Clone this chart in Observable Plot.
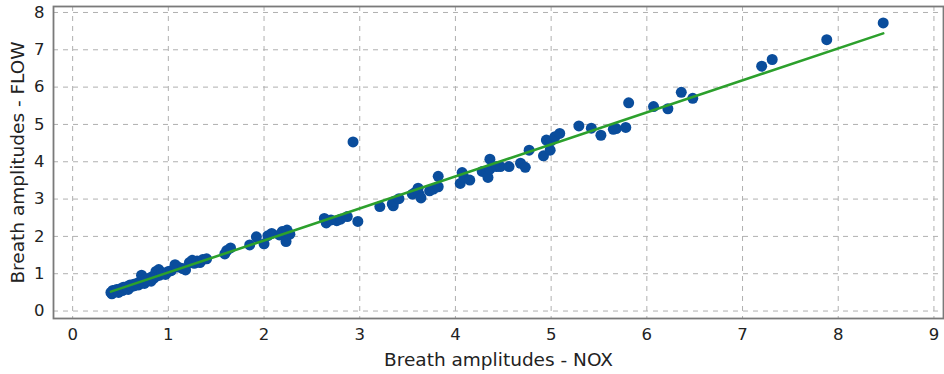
<!DOCTYPE html>
<html>
<head>
<meta charset="utf-8">
<script src="https://cdn.jsdelivr.net/npm/d3@7"></script>
<script src="https://cdn.jsdelivr.net/npm/@observablehq/plot@0.6"></script>
<style>
  html, body { margin: 0; padding: 0; background: #fff; }
  #chart svg { display: block; font-family: "DejaVu Sans", sans-serif; }
</style>
</head>
<body>
<div id="chart"></div>
<script>
// Breath amplitudes measured by NOX (x) vs FLOW (y)
const nox = [
  0.40, 0.41, 0.42, 0.44, 0.46, 0.48, 0.50, 0.52, 0.53, 0.55,
  0.57, 0.58, 0.60, 0.62, 0.64, 0.65, 0.67, 0.69, 0.70, 0.72,
  0.73, 0.75, 0.76, 0.78, 0.80, 0.82, 0.83, 0.85, 0.87, 0.88,
  0.90, 0.91, 0.93, 0.95, 0.97, 1.00, 1.03, 1.07, 1.10, 1.15,
  1.18, 1.22, 1.25, 1.27, 1.30, 1.33, 1.36, 1.40,
  1.59, 1.61, 1.65, 1.85, 1.92, 2.00, 2.04, 2.08, 2.16, 2.19,
  2.22, 2.24, 2.23, 2.27,
  2.63, 2.65, 2.70, 2.76, 2.80, 2.87, 2.98, 2.93,
  3.21, 3.34, 3.35, 3.36, 3.41, 3.55, 3.58, 3.61, 3.62, 3.64,
  3.73, 3.77, 3.82, 3.82,
  4.05, 4.07, 4.09, 4.15, 4.28, 4.33, 4.34, 4.36, 4.36, 4.43,
  4.47, 4.56, 4.68, 4.73, 4.77, 4.92, 4.95, 4.99, 5.00, 5.04,
  5.09, 5.29, 5.42, 5.52, 5.65, 5.68, 5.78, 5.81,
  6.07, 6.22, 6.36, 6.48, 7.20, 7.31, 7.88, 8.47
];
const flow = [
  0.50, 0.46, 0.55, 0.52, 0.58, 0.50, 0.60, 0.55, 0.64, 0.62,
  0.66, 0.58, 0.70, 0.66, 0.72, 0.68, 0.74, 0.70, 0.78, 0.96,
  0.80, 0.74, 0.86, 0.82, 0.88, 0.80, 0.92, 0.88, 1.06, 0.94,
  1.11, 0.96, 1.00, 1.02, 0.98, 1.06, 1.08, 1.24, 1.18, 1.14,
  1.10, 1.30, 1.36, 1.28, 1.34, 1.30, 1.38, 1.40,
  1.53, 1.62, 1.69, 1.77, 1.99, 1.80, 2.02, 2.08, 2.04, 2.13,
  1.98, 2.17, 1.86, 2.06,
  2.48, 2.36, 2.44, 2.42, 2.46, 2.53, 2.40, 4.53,
  2.80, 2.87, 2.82, 2.94, 3.01, 3.13, 3.18, 3.29, 3.13, 3.03,
  3.22, 3.27, 3.33, 3.61,
  3.42, 3.71, 3.58, 3.51, 3.74, 3.71, 3.58, 4.07, 3.80, 3.87,
  3.87, 3.87, 3.96, 3.85, 4.31, 4.16, 4.58, 4.31, 4.56, 4.67,
  4.76, 4.96, 4.90, 4.71, 4.87, 4.89, 4.92, 5.58,
  5.48, 5.42, 5.86, 5.70, 6.56, 6.74, 7.27, 7.72
];
// Fitted line end points
const fitX = [0.40, 8.47];
const fitY = [0.52, 7.44];
const xTicks = [0, 1, 2, 3, 4, 5, 6, 7, 8, 9];
const yTicks = [0, 1, 2, 3, 4, 5, 6, 7, 8];
const xLabel = "Breath amplitudes - NOX";
const yLabel = "Breath amplitudes - FLOW";

const points = nox.map((x, i) => ({x, y: flow[i]}));
const fit = fitX.map((x, i) => ({x, y: fitY[i]}));

const chart = Plot.plot({
  width: 944,
  height: 374,
  marginLeft: 53,
  marginRight: 1,
  marginTop: 6,
  marginBottom: 56,
  style: {fontFamily: "DejaVu Sans, sans-serif", color: "#222", background: "#fff"},
  x: {domain: [-0.2, 9.1]},
  y: {domain: [-0.2, 8.16]},
  marks: [
    Plot.gridX(xTicks, {stroke: "#b0b0b0", strokeOpacity: 1, strokeDasharray: "5,5", strokeWidth: 1}),
    Plot.gridY(yTicks, {stroke: "#b0b0b0", strokeOpacity: 1, strokeDasharray: "5,5", strokeWidth: 1}),
    Plot.axisX(xTicks, {tickSize: 0, tickPadding: 10, fontSize: 16.5, label: null}),
    Plot.axisY(yTicks, {tickSize: 0, tickPadding: 9, fontSize: 16.5, label: null}),
    Plot.text([xLabel], {frameAnchor: "bottom", text: d => d, dy: 42, textAnchor: "middle", lineAnchor: "middle", fontSize: 18.5, fill: "#222"}),
    Plot.text([yLabel], {frameAnchor: "left", text: d => d, dx: -35, rotate: -90, textAnchor: "middle", lineAnchor: "middle", fontSize: 18.5, fill: "#222"}),
    Plot.dot(points, {x: "x", y: "y", r: 5.5, fill: "#0a4d9c", stroke: "none"}),
    Plot.line(fit, {x: "x", y: "y", stroke: "#2ca02c", strokeWidth: 2.6}),
    Plot.frame({stroke: "#7a7a7a", strokeWidth: 1.8})
  ]
});
document.getElementById("chart").appendChild(chart);
</script>
</body>
</html>
